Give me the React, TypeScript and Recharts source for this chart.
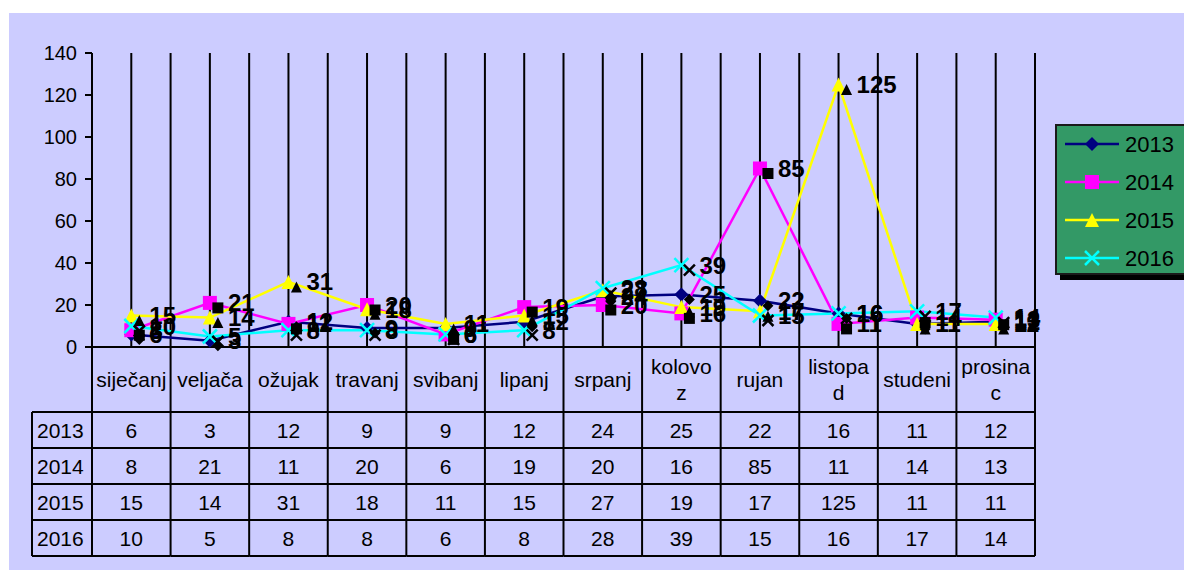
import React from "react";
import { LineChart, Line, XAxis, YAxis, CartesianGrid, LabelList } from "recharts";

const months = [
  "siječanj", "veljača", "ožujak", "travanj", "svibanj", "lipanj",
  "srpanj", "kolovoz", "rujan", "listopad", "studeni", "prosinac",
];
// header cells wrap the way the original table does
const headerLabels = [
  ["siječanj"], ["veljača"], ["ožujak"], ["travanj"], ["svibanj"], ["lipanj"],
  ["srpanj"], ["kolovo", "z"], ["rujan"], ["listopa", "d"], ["studeni"], ["prosina", "c"],
];
const years = ["2013", "2014", "2015", "2016"];
const v2013 = [6, 3, 12, 9, 9, 12, 24, 25, 22, 16, 11, 12];
const v2014 = [8, 21, 11, 20, 6, 19, 20, 16, 85, 11, 14, 13];
const v2015 = [15, 14, 31, 18, 11, 15, 27, 19, 17, 125, 11, 11];
const v2016 = [10, 5, 8, 8, 6, 8, 28, 39, 15, 16, 17, 14];
const yTicks = [0, 20, 40, 60, 80, 100, 120, 140];

const seriesValues = [v2013, v2014, v2015, v2016];
const seriesColors = ["#000080", "#FF00FF", "#FFFF00", "#00FFFF"];
const markerKinds = ["diamond", "square", "triangle", "x"];

const FONT = '"Liberation Sans", Arial, sans-serif';
const CHART_W = 1183;
const CHART_H = 557;
const MARGIN = { top: 40, right: 157, bottom: 13, left: 33 };
const Y_AXIS_W = 50;
const COL_W = (CHART_W - MARGIN.left - MARGIN.right - Y_AXIS_W) / months.length;
const HEADER_H = 65;
const ROW_H = 36;
const ROWHEAD_W = 60;

const data = months.map((m, i) => {
  const row: Record<string, number | string> = { x: i + 0.5, month: m };
  years.forEach((y, s) => (row["y" + y] = seriesValues[s][i]));
  return row;
});
const xTicks = Array.from({ length: months.length * 2 + 1 }, (_, k) => k / 2);

function Marker({ kind, cx, cy, color, size }: any) {
  const h = size / 2;
  if (kind === "diamond")
    return <polygon points={`${cx},${cy - h} ${cx + h},${cy} ${cx},${cy + h} ${cx - h},${cy}`} fill={color} />;
  if (kind === "square") return <rect x={cx - h} y={cy - h} width={size} height={size} fill={color} />;
  if (kind === "triangle")
    return <polygon points={`${cx},${cy - h} ${cx + h},${cy + h} ${cx - h},${cy + h}`} fill={color} />;
  return (
    <g stroke={color} strokeWidth={2.5}>
      <line x1={cx - h} y1={cy - h} x2={cx + h} y2={cy + h} />
      <line x1={cx - h} y1={cy + h} x2={cx + h} y2={cy - h} />
    </g>
  );
}

function DataLabel({ x, y, value, kind }: any) {
  if (x == null || y == null) return null;
  return (
    <g>
      <Marker kind={kind} cx={x + 8} cy={y + 5} color="#000" size={11} />
      <text x={x + 18} y={y + 8.5} fontFamily={FONT} fontSize={24} fontWeight="bold" fill="#000">
        {value}
      </text>
    </g>
  );
}

function TableTick({ x, y, payload }: any) {
  const v = payload.value;
  const top = y;
  const bottom = top + HEADER_H + ROW_H * years.length;
  const rowLines = years.map((_, r) => top + HEADER_H + r * ROW_H).concat(bottom);
  if (Number.isInteger(v)) {
    return (
      <g>
        <line x1={x} x2={x} y1={top} y2={bottom} stroke="#000" strokeWidth={2} />
        {v === 0 && (
          <g>
            <line x1={x - ROWHEAD_W} x2={x - ROWHEAD_W} y1={top + HEADER_H} y2={bottom} stroke="#000" strokeWidth={2} />
            {rowLines.map((ly, r) => (
              <line key={r} x1={x - ROWHEAD_W} x2={x} y1={ly} y2={ly} stroke="#000" strokeWidth={2} />
            ))}
            {years.map((yr, r) => (
              <text key={yr} x={x - ROWHEAD_W + 5} y={top + HEADER_H + r * ROW_H + ROW_H / 2 + 7.5}
                fontFamily={FONT} fontSize={21} fill="#000">
                {yr}
              </text>
            ))}
          </g>
        )}
      </g>
    );
  }
  const i = Math.floor(v);
  const lines = headerLabels[i];
  const headMid = top + HEADER_H / 2;
  return (
    <g>
      {rowLines.map((ly, r) => (
        <line key={r} x1={x - COL_W / 2} x2={x + COL_W / 2} y1={ly} y2={ly} stroke="#000" strokeWidth={2} />
      ))}
      {lines.map((t, k) => (
        <text key={k} x={x} y={headMid + 7.5 + (k - (lines.length - 1) / 2) * 26}
          textAnchor="middle" fontFamily={FONT} fontSize={21} fill="#000">
          {t}
        </text>
      ))}
      {seriesValues.map((vals, r) => (
        <text key={r} x={x} y={top + HEADER_H + r * ROW_H + ROW_H / 2 + 7.5}
          textAnchor="middle" fontFamily={FONT} fontSize={21} fill="#000">
          {vals[i]}
        </text>
      ))}
    </g>
  );
}

function LegendBox() {
  return (
    <div style={{
      position: "absolute", left: 1046, top: 111, width: 131, height: 147,
      background: "#339966", border: "2px solid #1a1a1a", boxShadow: "5px 5px 0 #000",
    }}>
      <svg width={131} height={147}>
        {years.map((yr, s) => {
          const cy = 18 + s * 38;
          return (
            <g key={yr}>
              <line x1={8} x2={62} y1={cy} y2={cy} stroke={seriesColors[s]} strokeWidth={2.5} />
              <Marker kind={markerKinds[s]} cx={35} cy={cy} color={seriesColors[s]} size={14} />
              <text x={68} y={cy + 8} fontFamily={FONT} fontSize={22} fill="#000">{yr}</text>
            </g>
          );
        })}
      </svg>
    </div>
  );
}

export default function App() {
  return (
    <div style={{ position: "relative", marginTop: 5, marginLeft: 1, width: CHART_W, height: CHART_H, background: "#CCCCFF" }}>
      <LineChart width={CHART_W} height={CHART_H} data={data} margin={MARGIN}>
        <CartesianGrid horizontal={false} stroke="#000" strokeWidth={2} />
        <XAxis
          type="number"
          dataKey="x"
          domain={[0, 12]}
          ticks={xTicks}
          interval={0}
          height={210}
          tickSize={0}
          tickMargin={0}
          tickLine={false}
          axisLine={{ stroke: "#000", strokeWidth: 2 }}
          tick={<TableTick />}
        />
        <YAxis
          width={Y_AXIS_W}
          domain={[0, 140]}
          ticks={yTicks}
          interval={0}
          tickSize={7}
          tickMargin={8}
          axisLine={{ stroke: "#000", strokeWidth: 2 }}
          tickLine={{ stroke: "#000", strokeWidth: 2 }}
          tick={{ fill: "#000", fontSize: 20, fontFamily: FONT }}
        />
        {years.map((yr, s) => (
          <Line
            key={yr}
            dataKey={"y" + yr}
            stroke={seriesColors[s]}
            strokeWidth={2.5}
            isAnimationActive={false}
            dot={(p: any) => (
              <Marker key={p.index} kind={markerKinds[s]} cx={p.cx} cy={p.cy} color={seriesColors[s]} size={14} />
            )}
            activeDot={false}
          >
            <LabelList dataKey={"y" + yr} content={(p: any) => <DataLabel {...p} kind={markerKinds[s]} />} />
          </Line>
        ))}
      </LineChart>
      <LegendBox />
    </div>
  );
}
